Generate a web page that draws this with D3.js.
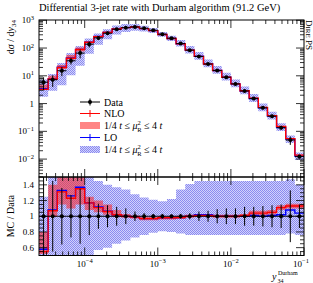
<!DOCTYPE html>
<html>
<head>
<meta charset="utf-8">
<script src="https://cdn.jsdelivr.net/npm/d3@7"></script>
<style>
  body { margin: 0; background: #fff; }
  svg { font-family: "Liberation Serif", "DejaVu Serif", serif; }
</style>
</head>
<body>
<svg id="chart" width="313" height="283"></svg>
<script>
// ---- data ----
// 29 equal log bins, 8 per decade, from 10^-4.625 to 10^-1
var logStart = -4.625
var binsPerDecade = 8
var nBins = 29

var dataVals = [5.9, 7.2, 15.2, 34.8, 65.6, 138, 232, 342, 475, 543, 575, 517, 438, 315, 226,
  145, 84, 49.6, 26.5, 15.5, 8.9, 5.1, 2.85, 1.51, 0.70, 0.351, 0.135, 0.0485, 0.0123]
// relative data errors
var dataErr = [0.5, 0.45, 0.36, 0.27, 0.35, 0.24, 0.16, 0.14, 0.12, 0.1, 0.06, 0.04, 0.03, 0.03, 0.02,
  0.03, 0.04, 0.06, 0.07, 0.09, 0.1, 0.1, 0.12, 0.12, 0.13, 0.14, 0.15, 0.33, 0.15]

// MC / Data
var nloRatio = [0.55, 1.07, 1.31, 1.23, 1.35, 1.17, 1.11, 1.06, 1.02, 1.0, 0.99, 0.97, 0.97, 0.98, 0.98,
  0.985, 1.0, 1.01, 1.01, 1.0, 1.0, 1.0, 1.01, 1.04, 1.04, 1.05, 1.11, 1.13, 1.13]
var nloBandLo = [0.52, 0.99, 1.15, 1.1, 1.15, 1.08, 1.05, 1.02, 0.99, 0.98, 0.97, 0.95, 0.95, 0.96, 0.96,
  0.965, 0.98, 0.99, 0.99, 0.98, 0.98, 0.98, 0.99, 1.01, 1.01, 1.02, 1.08, 1.1, 1.1]
var nloBandHi = [0.8, 1.4, 1.6, 1.6, 1.6, 1.25, 1.2, 1.15, 1.08, 1.03, 1.01, 0.99, 0.99, 1.0, 1.0,
  1.005, 1.02, 1.03, 1.03, 1.02, 1.02, 1.02, 1.03, 1.07, 1.07, 1.08, 1.14, 1.16, 1.16]

var loRatio = [0.58, 1.08, 1.33, 1.26, 1.37, 1.17, 1.12, 1.065, 1.02, 1.0, 0.99, 0.97, 0.97, 0.98, 0.98,
  0.985, 1.0, 1.02, 1.02, 1.0, 1.0, 1.0, 1.0, 1.01, 1.0, 1.01, 1.02, 1.08, 1.04]
var loBandLo = [0.3, 0.4, 0.3, 0.3, 0.35, 0.45, 0.57, 0.6, 0.65, 0.69, 0.73, 0.76, 0.79, 0.81, 0.8,
  0.78, 0.76, 0.76, 0.76, 0.76, 0.76, 0.76, 0.76, 0.76, 0.76, 0.76, 0.76, 0.78, 0.76]
var loBandHi = [1.25, 1.6, 1.9, 1.9, 1.8, 1.6, 1.45, 1.4, 1.37, 1.34, 1.28, 1.24, 1.21, 1.19, 1.22,
  1.34, 1.41, 1.45, 1.45, 1.45, 1.45, 1.45, 1.45, 1.45, 1.45, 1.45, 1.45, 1.47, 1.4]

var mainYLabels = [[1e3, "10", "3"], [1e2, "10", "2"], [1e1, "10", "1"], [1, "1", ""], [1e-1, "10", "−1"], [1e-2, "10", "−2"]]
var ratioYLabels = [0.6, 0.8, 1, 1.2, 1.4]
var xLabels = [[1e-4, "−4"], [1e-3, "−3"], [1e-2, "−2"], [1e-1, "−1"]]

// ---- layout ----
var L = 39, R = 304, T = 20, M = 177, B = 255.5
var svg = d3.select("#chart")

var x = d3.scaleLog().domain([Math.pow(10, logStart), 0.1]).range([L, R])
var y = d3.scaleLog().domain([Math.pow(10, -2.645), Math.pow(10, 3.01)]).range([M, T])
var yr = d3.scaleLinear().domain([0.5, 1.5]).range([B, M])

var edges = d3.range(nBins + 1).map(function(i){ return Math.pow(10, logStart + i / binsPerDecade) })
var centers = d3.range(nBins).map(function(i){ return Math.pow(10, logStart + (i + 0.5) / binsPerDecade) })

// checker pattern for the LO band
var defs = svg.append("defs")
var pat = defs.append("pattern").attr("id", "chk").attr("width", 2).attr("height", 2)
  .attr("patternUnits", "userSpaceOnUse")
pat.append("rect").attr("width", 2).attr("height", 2).attr("fill", "#d2d2fb")
pat.append("rect").attr("width", 1).attr("height", 1).attr("fill", "#8a8af0")
pat.append("rect").attr("x", 1).attr("y", 1).attr("width", 1).attr("height", 1).attr("fill", "#8a8af0")

defs.append("clipPath").attr("id", "clipMain").append("rect")
  .attr("x", L).attr("y", T).attr("width", R - L).attr("height", M - T)
defs.append("clipPath").attr("id", "clipRatio").append("rect")
  .attr("x", L).attr("y", M).attr("width", R - L).attr("height", B - M)

// step helpers
function stepPts(vals){
  var pts = []
  vals.forEach(function(v, i){ pts.push([edges[i], v]); pts.push([edges[i + 1], v]) })
  return pts
}
function stepBand(lo, hi){
  var pts = []
  lo.forEach(function(v, i){
    pts.push({x: edges[i], lo: lo[i], hi: hi[i]})
    pts.push({x: edges[i + 1], lo: lo[i], hi: hi[i]})
  })
  return pts
}
function mul(a, b){ return a.map(function(v, i){ return v * b[i] }) }

function drawPanel(g, ys, nlo, nloLo, nloHi, lo, loLo, loHi, dat, err){
  var area = d3.area().x(function(d){ return x(d.x) }).y0(function(d){ return ys(d.lo) }).y1(function(d){ return ys(d.hi) })
  var line = d3.line().x(function(d){ return x(d[0]) }).y(function(d){ return ys(d[1]) })
  g.append("path").datum(stepBand(loLo, loHi)).attr("d", area).attr("fill", "url(#chk)")
  g.append("path").datum(stepBand(nloLo, nloHi)).attr("d", area).attr("fill", "#ff2020").attr("fill-opacity", 0.55)
  g.append("path").datum(stepPts(lo)).attr("d", line).attr("fill", "none").attr("stroke", "#0000ff").attr("stroke-width", 1.4)
  g.append("path").datum(stepPts(nlo)).attr("d", line).attr("fill", "none").attr("stroke", "#ff0000").attr("stroke-width", 1.4)
  var pts = g.selectAll(".pt").data(dat).enter().append("g")
  pts.append("line")
    .attr("x1", function(d, i){ return x(edges[i]) }).attr("x2", function(d, i){ return x(edges[i + 1]) })
    .attr("y1", function(d){ return ys(d) }).attr("y2", function(d){ return ys(d) })
    .attr("stroke", "#000").attr("stroke-width", 1)
  pts.append("line")
    .attr("x1", function(d, i){ return x(centers[i]) }).attr("x2", function(d, i){ return x(centers[i]) })
    .attr("y1", function(d, i){ return ys(d * (1 - err[i])) }).attr("y2", function(d, i){ return ys(d * (1 + err[i])) })
    .attr("stroke", "#000").attr("stroke-width", 1)
  pts.append("circle")
    .attr("cx", function(d, i){ return x(centers[i]) }).attr("cy", function(d){ return ys(d) })
    .attr("r", 2).attr("fill", "#000")
}

// main panel
var gMain = svg.append("g").attr("clip-path", "url(#clipMain)")
drawPanel(gMain, y,
  mul(dataVals, nloRatio), mul(dataVals, nloBandLo), mul(dataVals, nloBandHi),
  mul(dataVals, loRatio), mul(dataVals, loBandLo), mul(dataVals, loBandHi),
  dataVals, dataErr)

// ratio panel
var ones = dataVals.map(function(){ return 1 })
var gRatio = svg.append("g").attr("clip-path", "url(#clipRatio)")
drawPanel(gRatio, yr, nloRatio, nloBandLo, nloBandHi, loRatio, loBandLo, loBandHi, ones, dataErr)

// frames
svg.append("rect").attr("x", L).attr("y", T).attr("width", R - L).attr("height", M - T)
  .attr("fill", "none").attr("stroke", "#000").attr("stroke-width", 1)
svg.append("rect").attr("x", L).attr("y", M).attr("width", R - L).attr("height", B - M)
  .attr("fill", "none").attr("stroke", "#000").attr("stroke-width", 1)

// ticks
var ticks = svg.append("g").attr("stroke", "#000").attr("stroke-width", 0.8)
var xMajor = [1e-4, 1e-3, 1e-2, 1e-1], xMinor = []
;[-5, -4, -3, -2].forEach(function(e){
  for (var k = 2; k <= 9; k++) { var v = k * Math.pow(10, e); if (v >= x.domain()[0] && v < 0.1) xMinor.push(v) }
})
function xTicks(y0, y1){
  xMajor.forEach(function(v){
    ticks.append("line").attr("x1", x(v)).attr("x2", x(v)).attr("y1", y0).attr("y2", y0 + 8)
    ticks.append("line").attr("x1", x(v)).attr("x2", x(v)).attr("y1", y1).attr("y2", y1 - 8)
  })
  xMinor.forEach(function(v){
    ticks.append("line").attr("x1", x(v)).attr("x2", x(v)).attr("y1", y0).attr("y2", y0 + 4)
    ticks.append("line").attr("x1", x(v)).attr("x2", x(v)).attr("y1", y1).attr("y2", y1 - 4)
  })
}
xTicks(T, M)
xTicks(M, B)

function yTick(yy, len){
  ticks.append("line").attr("x1", L).attr("x2", L + len).attr("y1", yy).attr("y2", yy)
  ticks.append("line").attr("x1", R).attr("x2", R - len).attr("y1", yy).attr("y2", yy)
}
for (var e = -3; e <= 3; e++) {
  var v0 = Math.pow(10, e)
  if (v0 >= y.domain()[0] && v0 <= y.domain()[1]) yTick(y(v0), 8)
  for (var k = 2; k <= 9; k++) {
    var vv = k * v0
    if (vv >= y.domain()[0] && vv <= y.domain()[1]) yTick(y(vv), 4)
  }
}
for (var r = 0.5; r <= 1.5001; r += 0.05) {
  var rr = Math.round(r * 100) / 100
  yTick(yr(rr), Math.abs(rr * 5 - Math.round(rr * 5)) < 1e-6 ? 8 : 4)
}

// tick labels
var fs = 9
mainYLabels.forEach(function(d){
  var t = svg.append("text").attr("x", 34).attr("y", y(d[0]) + 3).attr("text-anchor", "end")
    .attr("font-size", fs)
  t.append("tspan").text(d[1])
  if (d[2]) t.append("tspan").attr("dy", -3.5).attr("font-size", 6.5).text(d[2])
})
ratioYLabels.forEach(function(v){
  svg.append("text").attr("x", 34).attr("y", yr(v) + 3).attr("text-anchor", "end")
    .attr("font-size", fs).text(v)
})
xLabels.forEach(function(d){
  var t = svg.append("text").attr("x", x(d[0]) + (d[0] === 0.1 ? -3 : 0)).attr("y", 266.5)
    .attr("text-anchor", "middle").attr("font-size", fs)
  t.append("tspan").text("10")
  t.append("tspan").attr("dy", -3.5).attr("font-size", 6.5).text(d[1])
})

// titles
svg.append("text").attr("x", L).attr("y", 11).attr("font-size", 10.5)
  .text("Differential 3-jet rate with Durham algorithm (91.2 GeV)")

var yl = svg.append("text").attr("transform", "translate(14," + T + ") rotate(-90)")
  .attr("text-anchor", "end").attr("font-size", 10)
yl.append("tspan").text("d")
yl.append("tspan").attr("font-style", "italic").text("σ")
yl.append("tspan").text(" / d")
yl.append("tspan").attr("font-style", "italic").text("y")
yl.append("tspan").attr("dy", 2).attr("font-size", 7).text("34")

svg.append("text").attr("transform", "translate(14," + yr(1) + ") rotate(-90)")
  .attr("text-anchor", "middle").attr("font-size", 10).text("MC / Data")

// x label: y with sub 34 and sup Durham
var xl = svg.append("g")
xl.append("text").attr("x", 272).attr("y", 279.5).attr("font-size", 10).attr("font-style", "italic").text("y")
xl.append("text").attr("x", 278).attr("y", 275).attr("font-size", 6).text("Durham")
xl.append("text").attr("x", 277.5).attr("y", 282.5).attr("font-size", 6).text("34")

var side = svg.append("text").attr("transform", "translate(306," + T + ") rotate(90)")
  .attr("font-size", 9)
side.append("tspan").text("D")
side.append("tspan").attr("font-size", 7).text("IRE")
side.append("tspan").text(" PS")

// legend
var legY = [102, 113.5, 125.5, 137.5, 149.5]
var lx0 = 80, lx1 = 100
var leg = svg.append("g")
leg.append("line").attr("x1", lx0).attr("x2", lx1).attr("y1", legY[0]).attr("y2", legY[0]).attr("stroke", "#000")
leg.append("line").attr("x1", 90).attr("x2", 90).attr("y1", legY[0] - 3.5).attr("y2", legY[0] + 3.5).attr("stroke", "#000")
leg.append("circle").attr("cx", 90).attr("cy", legY[0]).attr("r", 2)
leg.append("line").attr("x1", lx0).attr("x2", lx1).attr("y1", legY[1]).attr("y2", legY[1]).attr("stroke", "#ff0000")
leg.append("line").attr("x1", 90).attr("x2", 90).attr("y1", legY[1] - 3.5).attr("y2", legY[1] + 3.5).attr("stroke", "#ff0000")
leg.append("rect").attr("x", lx0).attr("y", legY[2] - 3.5).attr("width", lx1 - lx0).attr("height", 7)
  .attr("fill", "#ff2020").attr("fill-opacity", 0.55)
leg.append("line").attr("x1", lx0).attr("x2", lx1).attr("y1", legY[3]).attr("y2", legY[3]).attr("stroke", "#0000ff")
leg.append("line").attr("x1", 90).attr("x2", 90).attr("y1", legY[3] - 3.5).attr("y2", legY[3] + 3.5).attr("stroke", "#0000ff")
leg.append("rect").attr("x", lx0).attr("y", legY[4] - 3.5).attr("width", lx1 - lx0).attr("height", 7)
  .attr("fill", "url(#chk)")

function legText(yy, plain){
  var t = leg.append("text").attr("x", 104).attr("y", yy + 3.5).attr("font-size", 10)
  if (plain) { t.text(plain); return }
  t.append("tspan").text("1/4 ")
  t.append("tspan").attr("font-style", "italic").text("t")
  t.append("tspan").text(" ≤ ")
  t.append("tspan").attr("font-style", "italic").text("μ")
  t.append("tspan").attr("dy", -4).attr("font-size", 6.5).text("2")
  t.append("tspan").attr("dx", -3.6).attr("dy", 6.5).attr("font-size", 6.5).text("R")
  t.append("tspan").attr("dy", -2.5).text(" ≤ 4 ")
  t.append("tspan").attr("font-style", "italic").text("t")
}
legText(legY[0], "Data")
legText(legY[1], "NLO")
legText(legY[2])
legText(legY[3], "LO")
legText(legY[4])
</script>
</body>
</html>
